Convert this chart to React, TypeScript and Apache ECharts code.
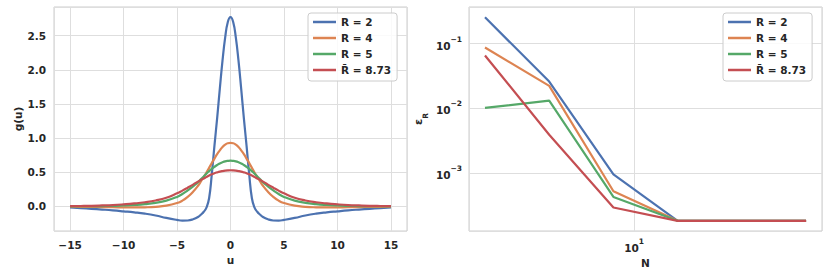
import React, { useEffect, useRef } from 'react';
import * as echarts from 'echarts';

// ---- Left panel: g(u) ----
const U = [-15, -14, -13, -12, -11, -10, -9, -8, -7, -6, -5, -4.5, -4, -3.5, -3, -2.75, -2.5, -2.25, -2, -1.75, -1.5, -1.25, -1, -0.75, -0.5, -0.25, 0,
  0.25, 0.5, 0.75, 1, 1.25, 1.5, 1.75, 2, 2.25, 2.5, 2.75, 3, 3.5, 4, 4.5, 5, 6, 7, 8, 9, 10, 11, 12, 13, 14, 15];

const gR2 = [-0.013, -0.023, -0.034, -0.045, -0.057, -0.071, -0.086, -0.105, -0.132, -0.168, -0.197, -0.207, -0.205, -0.187, -0.15, -0.118, -0.078, -0.018, 0.12, 0.47, 0.89, 1.29, 1.72, 2.13, 2.47, 2.70, 2.77,
  2.70, 2.47, 2.13, 1.72, 1.29, 0.89, 0.47, 0.12, -0.018, -0.078, -0.118, -0.15, -0.187, -0.205, -0.207, -0.197, -0.168, -0.132, -0.105, -0.086, -0.071, -0.057, -0.045, -0.034, -0.023, -0.013];
const gR4 = [-0.004, -0.005, -0.007, -0.009, -0.011, -0.013, -0.014, -0.012, -0.005, 0.012, 0.05, 0.085, 0.14, 0.215, 0.31, 0.37, 0.43, 0.495, 0.565, 0.635, 0.70, 0.765, 0.82, 0.87, 0.905, 0.925, 0.93,
  0.925, 0.905, 0.87, 0.82, 0.765, 0.70, 0.635, 0.565, 0.495, 0.43, 0.37, 0.31, 0.215, 0.14, 0.085, 0.05, 0.012, -0.005, -0.012, -0.014, -0.013, -0.011, -0.009, -0.007, -0.005, -0.004];
const gR5 = [0.002, 0.003, 0.004, 0.006, 0.009, 0.014, 0.022, 0.034, 0.053, 0.085, 0.14, 0.183, 0.235, 0.295, 0.36, 0.40, 0.44, 0.48, 0.518, 0.55, 0.58, 0.607, 0.63, 0.647, 0.66, 0.667, 0.67,
  0.667, 0.66, 0.647, 0.63, 0.607, 0.58, 0.55, 0.518, 0.48, 0.44, 0.40, 0.36, 0.295, 0.235, 0.183, 0.14, 0.085, 0.053, 0.034, 0.022, 0.014, 0.009, 0.006, 0.004, 0.003, 0.002];
const gRbar = [0.005, 0.007, 0.01, 0.015, 0.021, 0.031, 0.044, 0.062, 0.088, 0.128, 0.193, 0.232, 0.275, 0.32, 0.368, 0.39, 0.41, 0.432, 0.452, 0.47, 0.486, 0.499, 0.51, 0.518, 0.524, 0.528, 0.53,
  0.528, 0.524, 0.518, 0.51, 0.499, 0.486, 0.47, 0.452, 0.432, 0.41, 0.39, 0.368, 0.32, 0.275, 0.232, 0.193, 0.128, 0.088, 0.062, 0.044, 0.031, 0.021, 0.015, 0.01, 0.007, 0.005];

// ---- Right panel: error vs N ----
const N = [2, 4, 8, 16, 32, 64];
const eR2 = [0.25, 0.0255, 9.5e-4, 1.82e-4, 1.82e-4, 1.82e-4];
const eR4 = [0.0855, 0.0219, 5.2e-4, 1.82e-4, 1.82e-4, 1.82e-4];
const eR5 = [0.0100, 0.0130, 4.25e-4, 1.82e-4, 1.82e-4, 1.82e-4];
const eRbar = [0.0645, 3.86e-3, 2.92e-4, 1.82e-4, 1.82e-4, 1.82e-4];

const NAMES = ['R = 2', 'R = 4', 'R = 5', 'R\u0304 = 8.73'];
const COLORS = ['#4C72B0', '#DD8452', '#55A868', '#C44E52'];

const FONT = 'DejaVu Sans';
const TXT = '#262626';
const GRIDC = '#dedede';
const BORDER = '#cccccc';

const supLabel = (v: number) => {
  const e = Math.round(Math.log10(v));
  return `{b|10}{s|${e < 0 ? '\u2212' : ''}${Math.abs(e)}}`;
};
const supRich = {
  b: { fontFamily: FONT, fontWeight: 'bold', fontSize: 10.5, color: TXT, lineHeight: 16, verticalAlign: 'bottom' },
  s: { fontFamily: FONT, fontWeight: 'bold', fontSize: 7.5, color: TXT, lineHeight: 16, verticalAlign: 'top' },
};

export default function App() {
  const ref = useRef<HTMLDivElement>(null);
  useEffect(() => {
    const chart = echarts.init(ref.current!, null, { renderer: 'svg' });
    const pairs = (xs: number[], ys: number[]) => xs.map((x, i) => [x, ys[i]]);
    const leftSeries = [gR2, gR4, gR5, gRbar].map((d, i) => ({
      name: NAMES[i], type: 'line', xAxisIndex: 0, yAxisIndex: 0, data: pairs(U, d),
      smooth: true, showSymbol: false, symbol: 'none', lineStyle: { width: 2.2, color: COLORS[i] }, itemStyle: { color: COLORS[i] },
    }));
    const rightSeries = [eR2, eR4, eR5, eRbar].map((d, i) => ({
      name: NAMES[i], type: 'line', xAxisIndex: 1, yAxisIndex: 1, data: pairs(N, d),
      showSymbol: false, symbol: 'none', lineStyle: { width: 2.2, color: COLORS[i] }, itemStyle: { color: COLORS[i] },
    }));
    const axisText = { fontFamily: FONT, fontWeight: 'bold', fontSize: 10.5, color: TXT };
    const legendBase = {
      orient: 'vertical', top: 13, icon: 'rect', itemWidth: 23, itemHeight: 2.5, itemGap: 4,
      padding: [3, 6, 5, 5], borderColor: BORDER, borderWidth: 1, borderRadius: 3,
      backgroundColor: 'rgba(255,255,255,0.85)', selectedMode: false, data: NAMES,
      textStyle: { fontFamily: FONT, fontWeight: 'bold', fontSize: 10.5, color: TXT, lineHeight: 12 },
    };
    chart.setOption({
      animation: false,
      backgroundColor: '#ffffff',
      grid: [
        { left: 54, top: 7, width: 353, height: 224, show: true, borderColor: BORDER, borderWidth: 1, backgroundColor: 'transparent' },
        { left: 469, top: 7, width: 353, height: 224, show: true, borderColor: BORDER, borderWidth: 1, backgroundColor: 'transparent' },
      ],
      legend: [
        { ...legendBase, left: 308 },
        { ...legendBase, left: 723 },
      ],
      xAxis: [
        {
          type: 'value', gridIndex: 0, min: -16.5, max: 16.5,
          name: 'u', nameLocation: 'middle', nameGap: 22, nameTextStyle: axisText,
          axisLine: { show: false }, axisTick: { show: false },
          splitLine: { show: true, lineStyle: { color: GRIDC, width: 1 } },
          axisLabel: { ...axisText, margin: 8, showMinLabel: false, showMaxLabel: false, formatter: (v: number) => (v < 0 ? '\u2212' + Math.abs(v) : String(v)) },
        },
        {
          type: 'log', logBase: 10, gridIndex: 1, min: 1.683, max: 76.0,
          name: 'N', nameLocation: 'middle', nameGap: 22, nameTextStyle: axisText,
          axisLine: { show: false }, axisTick: { show: false }, minorTick: { show: false },
          splitLine: { show: true, lineStyle: { color: GRIDC, width: 1 } },
          axisLabel: { margin: 6, showMinLabel: false, showMaxLabel: false, formatter: supLabel, rich: supRich },
        },
      ],
      yAxis: [
        {
          type: 'value', gridIndex: 0, min: -0.359, max: 2.919,
          name: 'g(u)', nameLocation: 'middle', nameGap: 31, nameTextStyle: axisText,
          axisLine: { show: false }, axisTick: { show: false },
          splitLine: { show: true, lineStyle: { color: GRIDC, width: 1 } },
          axisLabel: { ...axisText, margin: 8, showMinLabel: false, showMaxLabel: false, formatter: (v: number) => v.toFixed(1) },
        },
        {
          type: 'log', logBase: 10, gridIndex: 1, min: 1.268e-4, max: 0.36,
          name: '{e|\u03B5}{r|R}', nameLocation: 'middle', nameGap: 40,
          nameTextStyle: {
            ...axisText,
            rich: {
              e: { fontFamily: FONT, fontWeight: 'bold', fontSize: 11, color: TXT, lineHeight: 16, verticalAlign: 'top' },
              r: { fontFamily: FONT, fontWeight: 'bold', fontSize: 7.5, color: TXT, lineHeight: 16, verticalAlign: 'bottom' },
            },
          },
          axisLine: { show: false }, axisTick: { show: false }, minorTick: { show: false },
          splitLine: { show: true, lineStyle: { color: GRIDC, width: 1 } },
          axisLabel: { margin: 7, showMinLabel: false, showMaxLabel: false, formatter: supLabel, rich: supRich },
        },
      ],
      series: [...leftSeries, ...rightSeries],
    });
    return () => chart.dispose();
  }, []);
  return <div ref={ref} style={{ position: 'fixed', left: 0, top: 0, width: 830, height: 277 }} />;
}
